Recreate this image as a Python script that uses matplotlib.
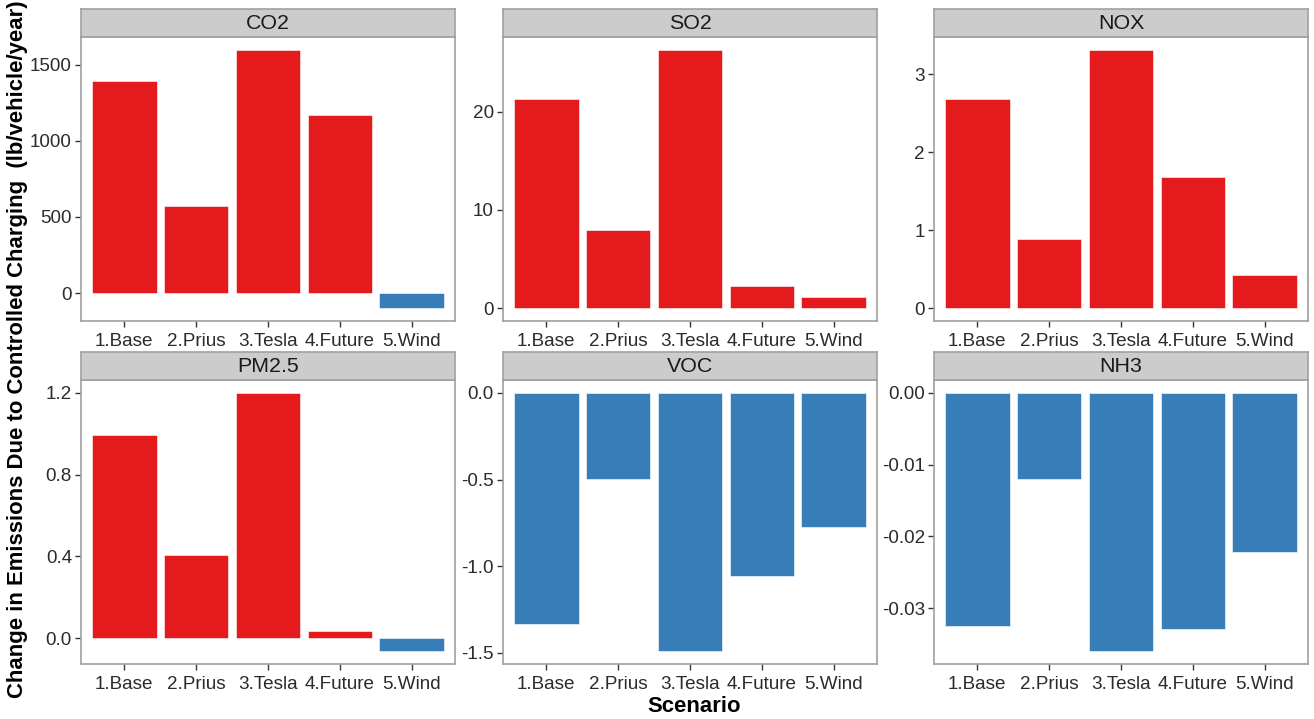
import matplotlib
matplotlib.use("Agg")
import matplotlib.pyplot as plt

plt.rcParams['font.family'] = ['Liberation Sans', 'DejaVu Sans']
plt.rcParams['axes.unicode_minus'] = False

scenarios = ["1.Base", "2.Prius", "3.Tesla", "4.Future", "5.Wind"]
pollutants = ["CO2", "SO2", "NOX", "PM2.5", "VOC", "NH3"]

co2 = [1395, 574, 1597, 1171, -99]
so2 = [21.3, 7.94, 26.3, 2.2, 1.12]
nox = [2.68, 0.89, 3.31, 1.675, 0.42]
pm25 = [0.992, 0.407, 1.20, 0.036, -0.064]
voc = [-1.335, -0.497, -1.489, -1.055, -0.774]
nh3 = [-0.03245, -0.01202, -0.03598, -0.03291, -0.02219]

co2_ticks = [0, 500, 1000, 1500]
co2_labels = ["0", "500", "1000", "1500"]
so2_ticks = [0, 10, 20]
so2_labels = ["0", "10", "20"]
nox_ticks = [0, 1, 2, 3]
nox_labels = ["0", "1", "2", "3"]
pm25_ticks = [0.0, 0.4, 0.8, 1.2]
pm25_labels = ["0.0", "0.4", "0.8", "1.2"]
voc_ticks = [0.0, -0.5, -1.0, -1.5]
voc_labels = ["0.0", "-0.5", "-1.0", "-1.5"]
nh3_ticks = [0.0, -0.01, -0.02, -0.03]
nh3_labels = ["0.00", "-0.01", "-0.02", "-0.03"]

series = [co2, so2, nox, pm25, voc, nh3]
ticks = [co2_ticks, so2_ticks, nox_ticks, pm25_ticks, voc_ticks, nh3_ticks]
labels = [co2_labels, so2_labels, nox_labels, pm25_labels, voc_labels, nh3_labels]

RED = "#E41A1C"
BLUE = "#377EB8"
BORDER = "#A0A0A0"
TXT = "#2B2B2B"

W, H = 1314, 719
fig = plt.figure(figsize=(W / 100, H / 100), dpi=100)

cols = [(81, 455), (503, 877), (934, 1308)]
rows = [(9, 37, 321), (352, 380, 664)]  # strip top, plot top, plot bottom


def fx(px):
    return px / W


def fy(py):
    return 1 - py / H


for i, (name, vals, tk, tl) in enumerate(zip(pollutants, series, ticks, labels)):
    r, c = divmod(i, 3)
    x0, x1 = cols[c]
    st, pt, pb = rows[r]
    ax = fig.add_axes([fx(x0), fy(pb), fx(x1) - fx(x0), fy(pt) - fy(pb)])
    xs = list(range(1, len(scenarios) + 1))
    colors = [RED if v >= 0 else BLUE for v in vals]
    ax.bar(xs, vals, width=0.9, color=colors, edgecolor="white", linewidth=0.4, zorder=2)
    lo = min(0, min(vals))
    hi = max(0, max(vals))
    span = hi - lo
    ax.set_ylim(lo - 0.05 * span, hi + 0.05 * span)
    ax.set_xlim(0.4, len(scenarios) + 0.6)
    ax.set_xticks(xs)
    ax.set_xticklabels(scenarios)
    ax.set_yticks(tk)
    ax.set_yticklabels(tl)
    ax.tick_params(axis="both", length=4, width=1, color="#333333",
                   labelsize=13.6, labelcolor=TXT)
    ax.tick_params(axis="x", pad=4.5)
    ax.tick_params(axis="y", pad=2.5)
    for s in ax.spines.values():
        s.set_color(BORDER)
        s.set_linewidth(1.2)
    ax.set_facecolor("white")

    sax = fig.add_axes([fx(x0), fy(pt), fx(x1) - fx(x0), fy(st) - fy(pt)])
    sax.set_facecolor("#CCCCCC")
    sax.set_xticks([])
    sax.set_yticks([])
    for s in sax.spines.values():
        s.set_color(BORDER)
        s.set_linewidth(1.2)
    sax.text(0.5, 0.48, name, ha="center", va="center", fontsize=15.4,
             color="#1A1A1A", transform=sax.transAxes)

fig.text(fx(18), fy(349.5),
         "Change in Emissions Due to Controlled Charging  (lb/vehicle/year)",
         rotation=90, ha="center", va="center", fontsize=15.9,
         fontweight="bold", color="black")
fig.text(fx(694.5), fy(706), "Scenario", ha="center", va="center",
         fontsize=15.9, fontweight="bold", color="black")

fig.savefig("out.png", dpi=100, facecolor="white")
